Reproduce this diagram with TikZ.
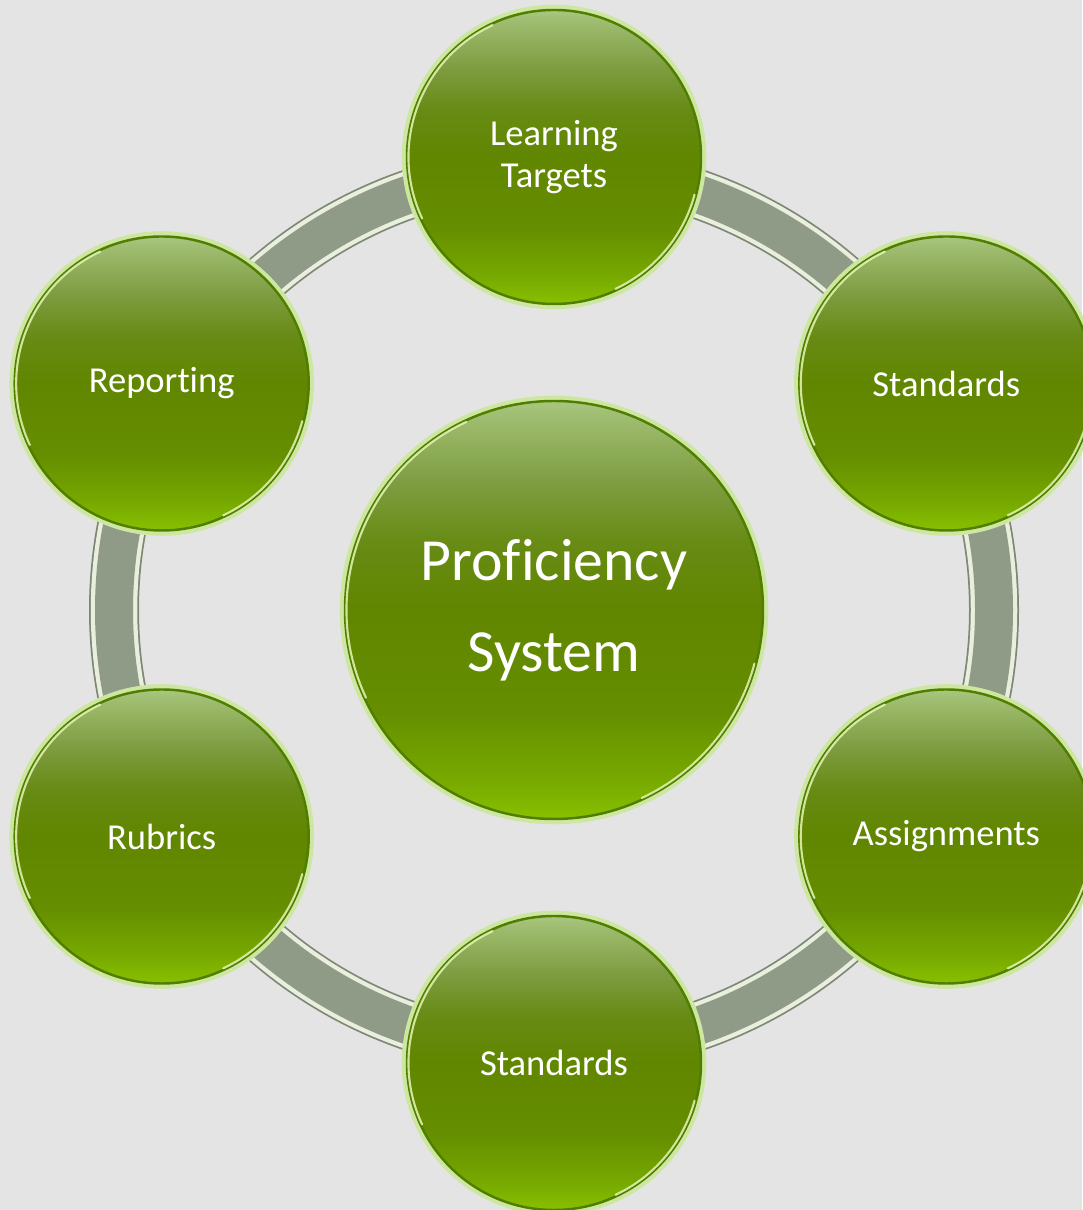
\documentclass[tikz,border=0pt]{standalone}
\usepackage{fontspec}
\setmainfont{Carlito}[Ligatures=NoCommon]
\newcommand\nolig{\kern0pt}

\definecolor{paper}{HTML}{E4E4E4}
\definecolor{ringedge}{HTML}{7C8873}
\definecolor{ringlight}{HTML}{E9EEDF}
\definecolor{ringfill}{HTML}{8F9B87}
\definecolor{rimdark}{HTML}{4F7E00}
\definecolor{rimglow}{HTML}{CDE7A0}
\definecolor{gloss}{HTML}{E8F5B8}
\definecolor{gA}{HTML}{88C000}
\definecolor{gB}{HTML}{76A800}
\definecolor{gC}{HTML}{658E00}
\definecolor{gD}{HTML}{618600}
\definecolor{gE}{HTML}{678B14}
\definecolor{gF}{HTML}{7D9C40}
\definecolor{gG}{HTML}{9AB868}
\definecolor{gH}{HTML}{A8C67E}

\pgfdeclareverticalshading{ballgreen}{100bp}{%
  color(0bp)=(gA); color(25bp)=(gA); color(30bp)=(gB); color(38bp)=(gC);
  color(50bp)=(gD); color(58bp)=(gE); color(65bp)=(gF); color(72bp)=(gG);
  color(75bp)=(gH); color(100bp)=(gH)}

\begin{document}
\begin{tikzpicture}
[
    ball/.style={circle, inner sep=0pt, shading=ballgreen, draw=rimdark,
        line width=0.7pt, preaction={draw=rimglow, line width=3pt},
        text=white, align=center},
    outer/.style={ball, minimum size=2.94cm, font=\fontsize{10.4}{11.8}\selectfont},
    hubball/.style={ball, minimum size=4.18cm, font=\fontsize{17}{26}\selectfont},
    shine/.style={gloss, line width=0.6pt, line cap=round, opacity=0.85},
]
\useasboundingbox [fill=paper] (0,0) rectangle (10.82,12.10);
\coordinate (hub) at (5.54,6.00);

% ring behind the circles
\draw [line width=0.50cm, draw=ringedge] (hub) circle (4.40);
\draw [line width=0.465cm, draw=ringlight] (hub) circle (4.40);
\draw [line width=0.38cm, draw=ringfill] (hub) circle (4.40);

\node [outer] (targets)     at ([shift={(90:4.53)}]hub)   {Learning\\Targets};
\node [outer] (standardsA)  at ([shift={(30:4.53)}]hub)   {Standards};
\node [outer] (assignments) at ([shift={(-30:4.53)}]hub)  {Assignments};
\node [outer] (standardsB)  at ([shift={(-90:4.53)}]hub)  {Standards};
\node [outer] (rubrics)     at ([shift={(-150:4.53)}]hub) {Rubrics};
\node [outer] (reporting)   at ([shift={(150:4.53)}]hub)  {Repor\nolig ting};
\node [hubball] (system) at (hub) {Prof\nolig iciency\\System};

% glossy edges of every circle
\foreach \n/\r in {targets/1.455, standardsA/1.455, assignments/1.455,
    standardsB/1.455, rubrics/1.455, reporting/1.455, system/2.075}
{
    \draw [shine] ([shift={(115:\r)}]\n.center) arc (115:205:\r);
    \draw [shine] ([shift={(-65:\r)}]\n.center) arc (-65:-15:\r);
}
\end{tikzpicture}
\end{document}
